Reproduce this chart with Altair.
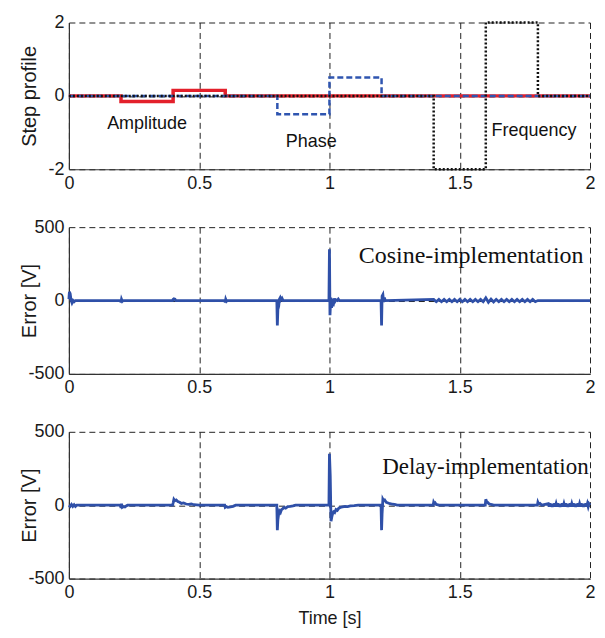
import altair as alt
import pandas as pd

# ---------------- data ----------------
x_ticks = [0, 0.5, 1, 1.5, 2]
step_ticks = [-2, 0, 2]
err_ticks = [-500, 0, 500]

amp_t = [0, 0.2, 0.4, 0.6, 2.0]
amp_v = [0, -0.15, 0.15, 0, 0]
phase_t = [0, 0.8, 1.0, 1.2, 2.0]
phase_v = [0, -0.5, 0.5, 0, 0]
freq_t = [0, 1.4, 1.6, 1.8, 2.0]
freq_v = [0, -2, 2, 0, 0]

step_labels = ["Amplitude", "Phase", "Frequency"]
step_label_x = [0.30, 0.93, 1.785]
step_label_y = [-0.78, -1.27, -0.97]

cos_t = [0.000, 0.002, 0.005, 0.008, 0.012, 0.016, 0.020, 0.025,
         0.198, 0.200, 0.202, 0.205, 0.208,
         0.398, 0.400, 0.403, 0.407, 0.410,
         0.598, 0.600, 0.602, 0.605, 0.608,
         0.798, 0.800, 0.802, 0.805, 0.808, 0.811, 0.814, 0.818, 0.822,
         0.998, 1.000, 1.002, 1.005, 1.008, 1.011, 1.014, 1.017, 1.020, 1.025, 1.030, 1.034, 1.038,
         1.198, 1.200, 1.202, 1.205, 1.208, 1.211, 1.214,
         1.400, 1.410, 1.420, 1.430, 1.440, 1.450, 1.460, 1.470, 1.480, 1.490,
         1.500, 1.510, 1.520, 1.530, 1.540, 1.550, 1.560, 1.570, 1.580, 1.590,
         1.600, 1.610, 1.620, 1.630, 1.640, 1.650, 1.660, 1.670, 1.680, 1.690,
         1.700, 1.710, 1.720, 1.730, 1.740, 1.750, 1.760, 1.770, 1.780, 1.790,
         1.800, 2.000]
cos_v = [10, 60, 45, 5, -15, 0, -8, 0,
         0, -12, 8, -5, 0,
         0, 8, 12, 10, 0,
         0, -12, 8, -5, 0,
         0, -170, -60, -40, 10, 20, 5, 15, 0,
         0, 350, -100, 20, -50, 10, -40, 15, -10, 5, 0, 10, 0,
         0, -170, 30, 40, -10, 20, 0,
         8, -8, 8, -8, 8, -8, 8, -8, 8, -8,
         8, -8, 8, -8, 8, -8, 8, -8, 8, -8,
         18, -12, 10, -10, 8, -8, 8, -8, 8, -8,
         8, -8, 8, -8, 8, -8, 8, -8, 8, -8,
         0, 0]

del_t = [0.000, 0.005, 0.010, 0.015, 0.020, 0.025, 0.030,
         0.198, 0.200, 0.202, 0.205, 0.210, 0.215, 0.220, 0.225,
         0.398, 0.400, 0.403, 0.407, 0.412, 0.418, 0.425, 0.432, 0.440, 0.450, 0.460, 0.470, 0.480, 0.500,
         0.598, 0.600, 0.605, 0.610, 0.620, 0.630, 0.640,
         0.798, 0.800, 0.802, 0.805, 0.808, 0.812, 0.816, 0.820, 0.826, 0.832, 0.840, 0.850, 0.860, 0.870,
         0.998, 1.000, 1.003, 1.006, 1.009, 1.012, 1.016, 1.020, 1.025, 1.030, 1.036, 1.042, 1.050,
         1.060, 1.070, 1.080, 1.095, 1.110,
         1.198, 1.200, 1.202, 1.205, 1.208, 1.212, 1.218, 1.225, 1.232, 1.240, 1.250, 1.260,
         1.398, 1.400, 1.403, 1.406, 1.410, 1.420,
         1.598, 1.600, 1.603, 1.607, 1.612, 1.620, 1.630,
         1.798, 1.800, 1.803, 1.808, 1.815,
         1.840, 1.843, 1.846, 1.849, 1.852, 1.855, 1.858, 1.861, 1.864, 1.867,
         1.870, 1.873, 1.876, 1.879, 1.882, 1.885, 1.888, 1.891, 1.894, 1.897,
         1.900, 1.903, 1.906, 1.909, 1.912, 1.915, 1.918, 1.921, 1.924, 1.927,
         1.930, 1.933, 1.936, 1.939, 1.942, 1.945, 1.948, 1.951, 1.954, 1.957,
         1.960, 1.963, 1.966, 1.969, 1.972, 1.975, 1.978, 1.981, 1.984, 1.987,
         1.990, 1.993, 1.996, 2.000]
del_v = [0, -8, 5, -8, 3, -8, 0,
         0, -20, 10, -15, -10, -12, -5, 0,
         0, 15, 40, 30, 35, 25, 20, 12, 15, 8, 5, 8, 3, 0,
         0, -15, -10, -15, -12, -8, 0,
         0, -170, -100, -60, -40, -50, -30, -25, -15, -20, -10, -8, -5, 0,
         0, 350, 200, -110, -80, -60, -45, -50, -30, -35, -20, -15, -12,
         -8, -10, -5, -3, 0,
         0, -170, -60, 40, 30, 35, 20, 15, 10, 8, 5, 0,
         0, 20, 10, 15, 5, 0,
         0, 40, 25, 20, 10, 5, 0,
         0, 20, 8, 12, 0,
         10, -10, 12, -10, 10, -12, 10, -10, 12, -10,
         10, -10, 12, -10, 10, -12, 10, -10, 12, -10,
         10, -10, 12, -10, 10, -12, 10, -10, 12, -10,
         10, -10, 12, -10, 10, -12, 10, -10, 12, -10,
         10, -10, 12, -10, 10, -12, 10, -10, 12, -10,
         10, -10, 10, 0]

err_label_text = ["Cosine-implementation", "Delay-implementation"]
err_label_x = [1.975, 1.995]
err_label_y = [300, 262]
err_label_size = [24, 23]

# ---------------- styling ----------------
W, H = 522, 147
SANS = "Liberation Sans"
SERIF = "Liberation Serif"
ERR_BLUE = "#2f50a8"


def x_enc(show_title):
    return alt.X(
        "t:Q",
        scale=alt.Scale(domain=[0, 2], nice=False),
        axis=alt.Axis(values=x_ticks, labelExpr="'' + datum.value",
                      title="Time [s]" if show_title else None,
                      titlePadding=8, titleFontSize=18),
    )


def y_enc(domain, ticks, title):
    return alt.Y(
        "v:Q",
        scale=alt.Scale(domain=domain, nice=False),
        axis=alt.Axis(values=ticks, labelExpr="'' + datum.value", title=title,
                      titleX=-29),
    )


# ---------------- panel 1 ----------------
amp_df = pd.DataFrame({"t": amp_t, "v": amp_v})
phase_df = pd.DataFrame({"t": phase_t, "v": phase_v})
freq_df = pd.DataFrame({"t": freq_t, "v": freq_v})
lab_df = pd.DataFrame({"t": step_label_x, "v": step_label_y, "txt": step_labels})

ye1 = y_enc([-2, 2], step_ticks, "Step profile")
amp = alt.Chart(amp_df).mark_line(interpolate="step-after", color="#e3202b",
                                  strokeWidth=3.5).encode(x=x_enc(False), y=ye1)
phase = alt.Chart(phase_df).mark_line(interpolate="step-after", color="#2f55b0",
                                      strokeWidth=2.5, strokeDash=[6, 3]).encode(x=x_enc(False), y=ye1)
freq = alt.Chart(freq_df).mark_line(interpolate="step-after", color="#111111",
                                    strokeWidth=2.5, strokeDash=[2, 2]).encode(x=x_enc(False), y=ye1)
labs = alt.Chart(lab_df).mark_text(font=SANS, fontSize=18, color="#111").encode(
    x="t:Q", y="v:Q", text="txt:N")
p1 = alt.layer(amp, phase, freq, labs).properties(width=W, height=H)

# ---------------- panels 2 & 3 ----------------
def err_panel(ts, vs, idx, show_title):
    df = pd.DataFrame({"t": ts, "v": vs})
    ye = y_enc([-500, 500], err_ticks, "Error [V]")
    line = alt.Chart(df).mark_line(color=ERR_BLUE, strokeWidth=2.8).encode(
        x=x_enc(show_title), y=ye)
    tdf = pd.DataFrame({"t": [err_label_x[idx]], "v": [err_label_y[idx]],
                        "txt": [err_label_text[idx]]})
    txt = alt.Chart(tdf).mark_text(font=SERIF, fontSize=err_label_size[idx], align="right",
                                   color="#111").encode(x="t:Q", y="v:Q", text="txt:N")
    return alt.layer(line, txt).properties(width=W, height=H)


p2 = err_panel(cos_t, cos_v, 0, False)
p3 = err_panel(del_t, del_v, 1, True)

chart = alt.vconcat(p1, p2, p3, spacing=58, bounds="flush").configure_axis(
    labelFont=SANS, labelFontSize=18, labelColor="#1a1a1a", labelFlush=False,
    labelPadding=5, labelOverlap=False,
    titleFont=SANS, titleFontSize=20, titleFontWeight="normal", titleColor="#1a1a1a",
    domainColor="#333333", domainWidth=1.2, ticks=False,
    grid=True, gridColor="#222222", gridDash=[6, 4], gridWidth=1, gridOpacity=1,
).configure_view(stroke=None).properties(padding={"left": 11, "top": 5, "right": 0, "bottom": 0})

chart.save("out.html", embed_options={"renderer": "svg", "actions": False})
